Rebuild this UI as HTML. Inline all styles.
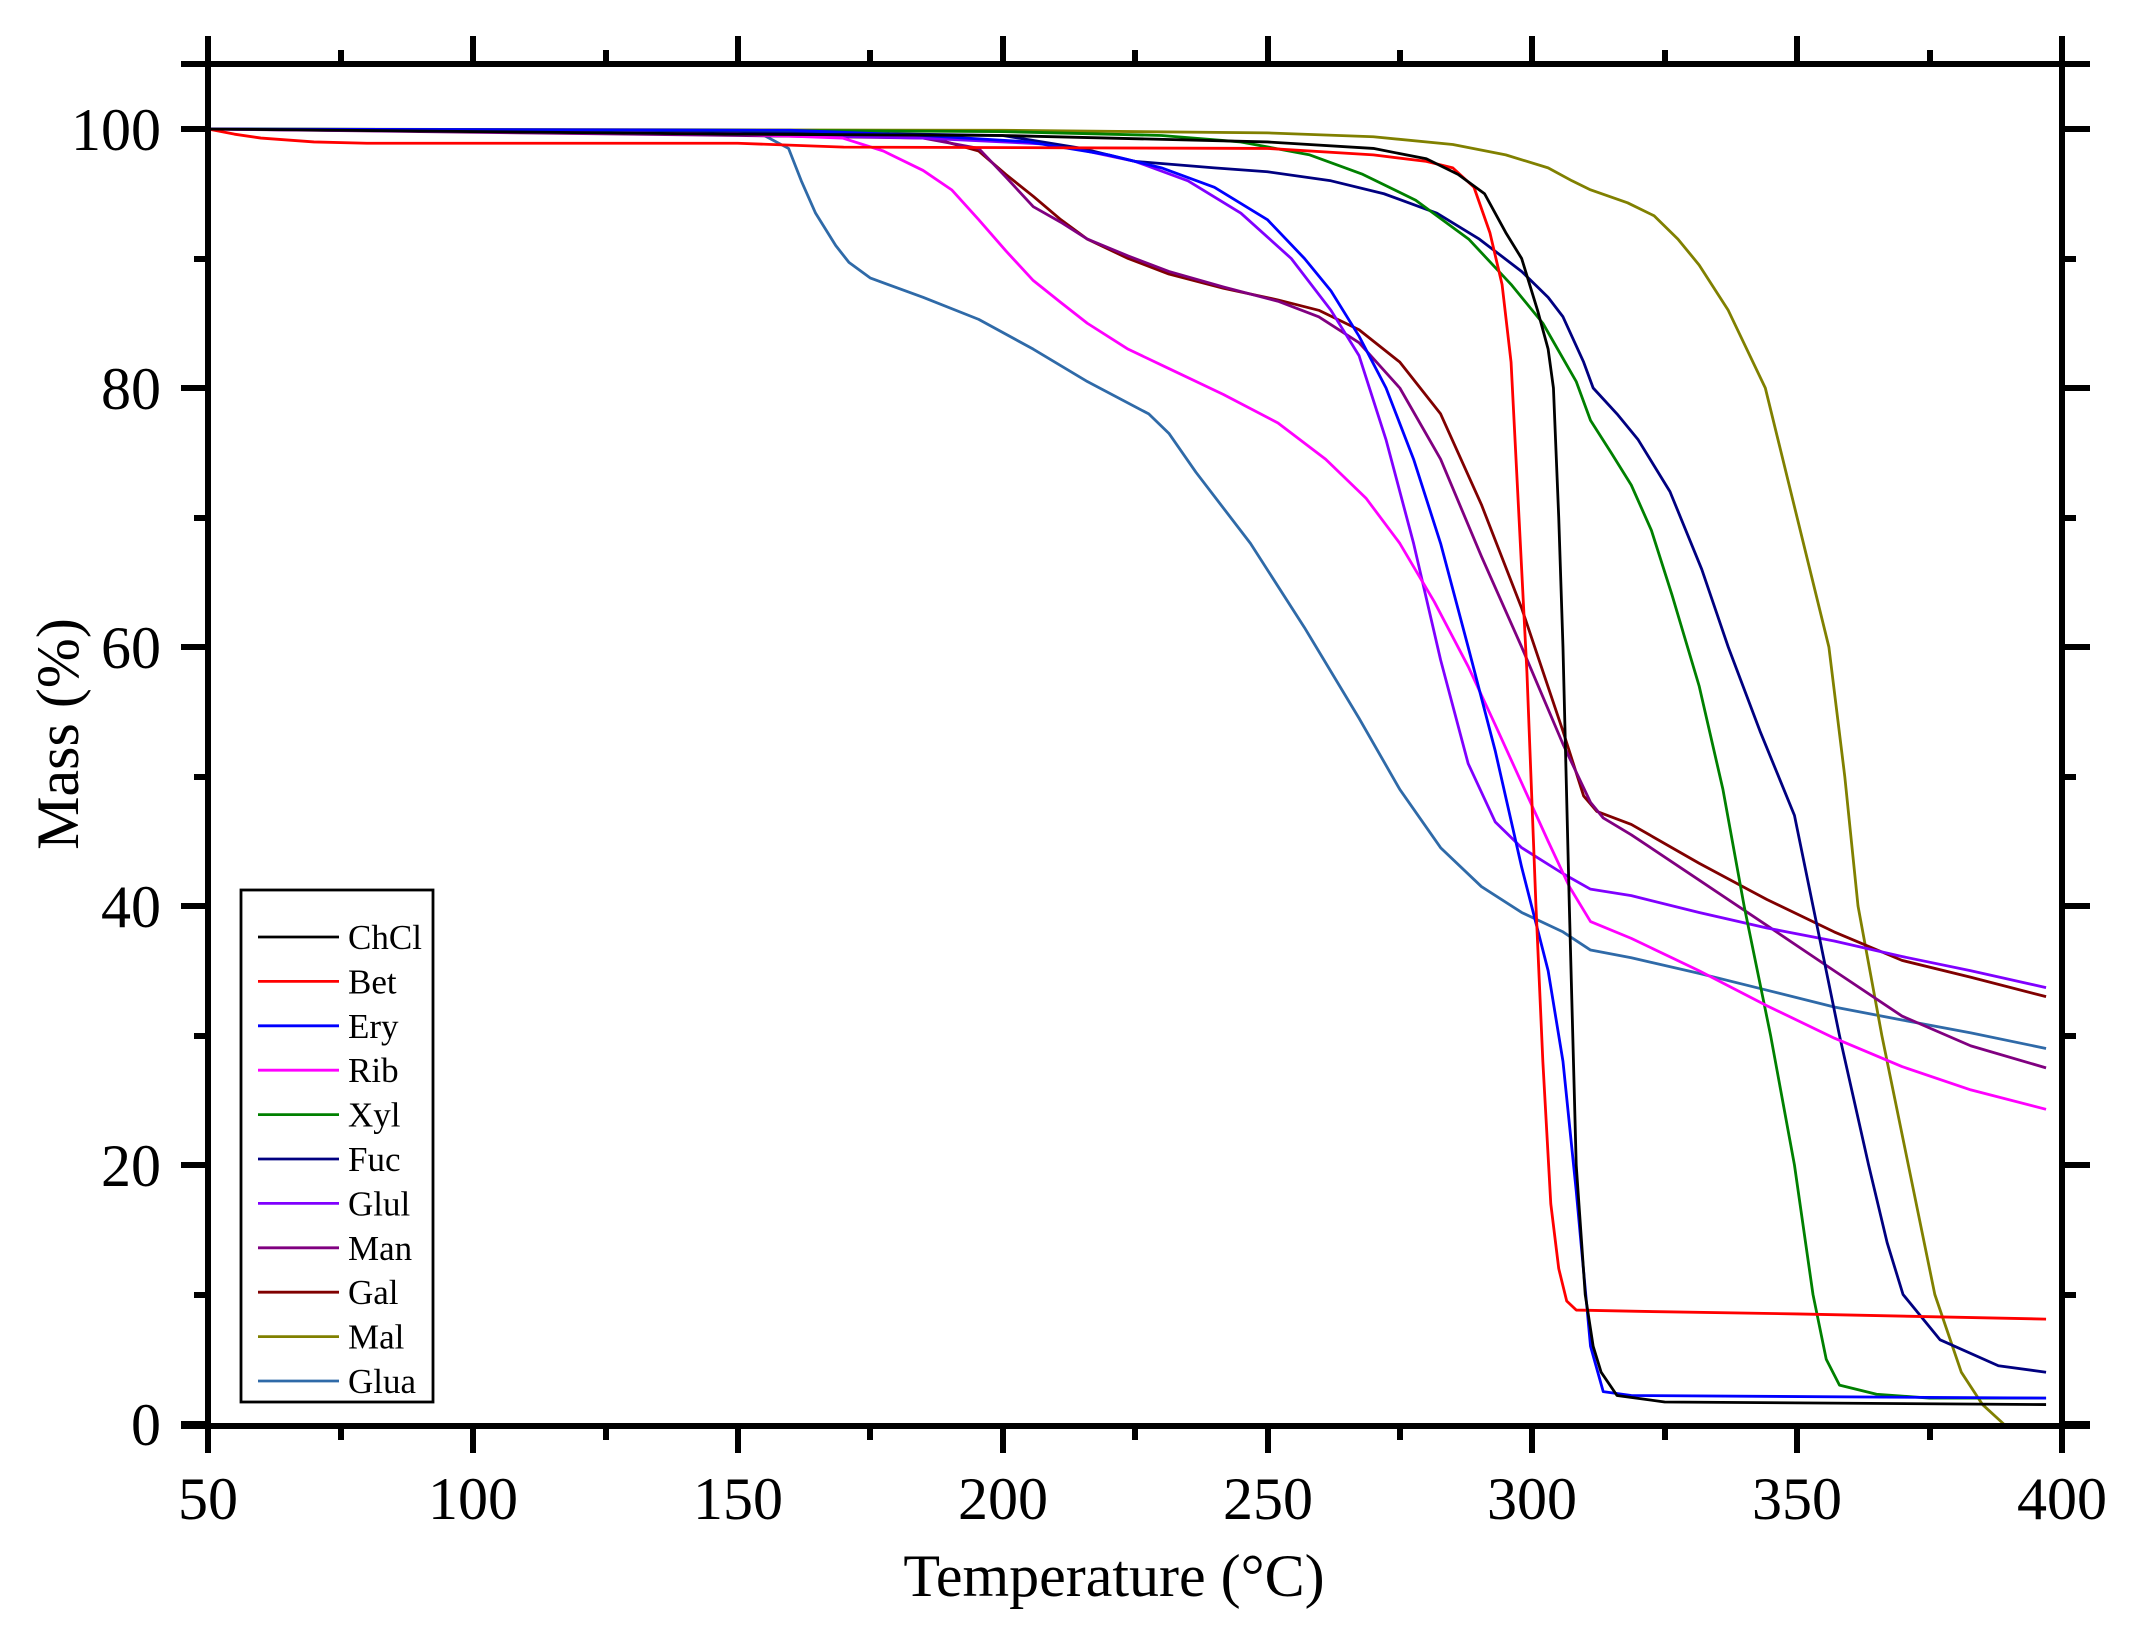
<!DOCTYPE html>
<html><head><meta charset="utf-8"><style>html,body{margin:0;padding:0;background:#fff}</style></head>
<body>
<svg width="2131" height="1633" viewBox="0 0 2131 1633" xmlns="http://www.w3.org/2000/svg" font-family="'Liberation Serif', serif">
<rect width="2131" height="1633" fill="#fff"/>
<g fill="none" stroke-width="2.8" stroke-linejoin="round">
<g transform="translate(208,1424) scale(5.297,-12.95) translate(-50,0)">
<polyline vector-effect="non-scaling-stroke" stroke="#2f6aa8" points="50,100 150,99.8 155,99.5 159.6,98.5 162,96 164.7,93.5 168.5,91 171,89.7 175,88.5 185,87 195.5,85.3 205.8,83 216,80.5 227.6,78 231.4,76.5 236.5,73.5 246.8,68 257,61.5 267.3,54.5 275,49 282.7,44.5 290.4,41.5 298,39.5 305.8,38 311,36.6 318.7,36 331.5,34.8 344.3,33.5 357,32.2 369.8,31.2 382.8,30.2 397,29"/>
<polyline vector-effect="non-scaling-stroke" stroke="#808000" points="50,100 200,99.9 250,99.7 270,99.4 285,98.8 295,98 303,97 307.5,96 311,95.3 318,94.3 323,93.3 327.5,91.5 331.5,89.5 337,86 344,80 350,70 356,60 359,50 361.5,40 366,30 371,20 376,10 381,4 385,1.5 389,0"/>
<polyline vector-effect="non-scaling-stroke" stroke="#800000" points="50,100 150,99.7 185,99.5 195.5,98.3 200.6,96.5 205.8,94.8 211,93 216,91.5 223.7,90 231.4,88.8 241.7,87.7 252,86.8 259.7,86 267.3,84.5 275,82 282.7,78 290.4,71 298,63 305.8,53.5 309.7,48.5 312.2,47.3 318.7,46.3 331.5,43.3 344.3,40.5 357,38 369.8,35.8 382.8,34.5 397,33"/>
<polyline vector-effect="non-scaling-stroke" stroke="#800080" points="50,100 150,99.5 185,99.3 195.5,98.5 200.6,96.3 205.8,94 211,92.8 216,91.5 223.7,90.2 231.4,89 241.7,87.8 252,86.7 259.7,85.5 267.3,83.5 275,80 282.7,74.5 290.4,67 298,60 305.8,52.5 311,48 313.4,46.8 318.7,45.5 331.5,42 344.3,38.5 357,35 369.8,31.5 382.8,29.2 397,27.5"/>
<polyline vector-effect="non-scaling-stroke" stroke="#8000ff" points="50,100 150,99.6 185,99.3 210,98.8 225,97.5 235,96 245,93.5 254.5,90 262,86 267.3,82.5 272.4,76 277.6,68 282.7,59 287.9,51 293,46.5 298,44.5 305.8,42.5 311,41.3 318.7,40.8 331.5,39.5 344.3,38.3 357,37.3 369.8,36.1 382.8,35 397,33.7"/>
<polyline vector-effect="non-scaling-stroke" stroke="#000080" points="50,100 150,99.8 200,99.5 215,98.5 225,97.5 240,97 250,96.7 262,96 272,95 282,93.5 290,91.5 298,89 303,87 305.8,85.5 309.7,82 311.5,80 316,78 320,76 326,72 332,66 337,60 343,53.5 349.5,47 353,40 358,30 363.5,20 367,14 370,10 377,6.5 388,4.5 397,4"/>
<polyline vector-effect="non-scaling-stroke" stroke="#008000" points="50,100 150,99.9 200,99.8 230,99.5 245,99 258,98 268,96.5 278,94.5 288,91.5 296,88 302,85 308.3,80.5 311,77.5 314.9,75 318.7,72.5 322.5,69 326.4,64 331.5,57 336,49 340,40 345,30 349.5,20 353,10 355.5,5 358,3 365,2.3 375,2 397,2"/>
<polyline vector-effect="non-scaling-stroke" stroke="#ff00ff" points="50,100 150,99.6 169.8,99.3 177.5,98.3 185,96.8 190.4,95.3 195.5,93 200.6,90.6 205.8,88.3 211,86.6 216,85 223.7,83 231.4,81.5 241.7,79.5 252,77.3 261,74.5 268.6,71.5 275,68 281.5,63.5 287.9,58.5 293,54 298,49.5 303,45 307,41.5 311,38.8 318.7,37.5 331.5,35 344.3,32.3 357,29.8 369.8,27.6 382.8,25.8 397,24.3"/>
<polyline vector-effect="non-scaling-stroke" stroke="#0000ff" points="50,100 160,99.9 185,99.5 205,99 220,98 230,97 240,95.5 250,93 257,90 262,87.5 267.3,84 272.4,80 277.6,74.5 282.7,68 287.9,60 293,52 298,43 303,35 305.8,28 308.3,18 311,6 313.4,2.5 318.7,2.2 397,2"/>
<polyline vector-effect="non-scaling-stroke" stroke="#ff0000" points="50,100 55,99.6 60,99.3 70,99 80,98.9 150,98.9 170,98.6 250,98.5 270,98 280,97.5 285,97 289,95.5 292,92 294.3,88 296,82 297.5,70 299,58 300.7,40 302,28 303.5,17 305,12 306.5,9.5 308.3,8.8 320,8.7 350,8.5 397,8.1"/>
<polyline vector-effect="non-scaling-stroke" stroke="#000000" points="50,100 150,99.6 200,99.5 250,99 270,98.5 280,97.7 286,96.5 291,95 295,92 298,90 301,86 303,83 304,80 305,70 305.8,60 307,40 308.3,20 310,10 311.5,6 313,4 316,2.2 325,1.7 397,1.5"/>
</g>
</g>
<g stroke="#000" stroke-width="6" fill="none">
<line x1="181" y1="1426" x2="2090" y2="1426"/>
<line x1="181" y1="64" x2="2090" y2="64"/>
<line x1="208" y1="36" x2="208" y2="1453"/>
<line x1="2062" y1="36" x2="2062" y2="1453"/>
<path d="M208 1426V1453M473 1426V1453M738 1426V1453M1003 1426V1453M1268 1426V1453M1532 1426V1453M1797 1426V1453M2062 1426V1453"/>
<path d="M341 1426V1440M606 1426V1440M870 1426V1440M1135 1426V1440M1400 1426V1440M1665 1426V1440M1930 1426V1440"/>
<path d="M208 64V36M473 64V36M738 64V36M1003 64V36M1268 64V36M1532 64V36M1797 64V36M2062 64V36"/>
<path d="M341 64V50M606 64V50M870 64V50M1135 64V50M1400 64V50M1665 64V50M1930 64V50"/>
<path d="M208 1424H181M208 1165H181M208 906H181M208 647H181M208 388H181M208 129H181"/>
<path d="M208 1295H194M208 1036H194M208 777H194M208 518H194M208 259H194"/>
<path d="M2062 1424H2090M2062 1165H2090M2062 906H2090M2062 647H2090M2062 388H2090M2062 129H2090"/>
<path d="M2062 1295H2076M2062 1036H2076M2062 777H2076M2062 518H2076M2062 259H2076"/>
</g>
<g font-size="60" fill="#000" text-anchor="middle">
<text x="208" y="1519">50</text><text x="473" y="1519">100</text><text x="738" y="1519">150</text><text x="1003" y="1519">200</text><text x="1268" y="1519">250</text><text x="1532" y="1519">300</text><text x="1797" y="1519">350</text><text x="2062" y="1519">400</text>
</g>
<g font-size="60" fill="#000" text-anchor="end">
<text x="161" y="1445">0</text><text x="161" y="1186">20</text><text x="161" y="927">40</text><text x="161" y="668">60</text><text x="161" y="409">80</text><text x="161" y="150">100</text>
</g>
<text x="1114" y="1596" font-size="60" text-anchor="middle">Temperature (°C)</text>
<text transform="translate(78,734) rotate(-90)" font-size="60" text-anchor="middle">Mass (%)</text>
<rect x="241" y="890" width="192" height="512" fill="#fff" stroke="#000" stroke-width="2.8"/>
<g stroke-width="2.8" font-size="35" fill="#000">
<line x1="258" y1="937" x2="339" y2="937" stroke="#000000"/><text x="348" y="949">ChCl</text>
<line x1="258" y1="981.4" x2="339" y2="981.4" stroke="#ff0000"/><text x="348" y="993.4">Bet</text>
<line x1="258" y1="1025.8" x2="339" y2="1025.8" stroke="#0000ff"/><text x="348" y="1037.8">Ery</text>
<line x1="258" y1="1070.2" x2="339" y2="1070.2" stroke="#ff00ff"/><text x="348" y="1082.2">Rib</text>
<line x1="258" y1="1114.6" x2="339" y2="1114.6" stroke="#008000"/><text x="348" y="1126.6">Xyl</text>
<line x1="258" y1="1159" x2="339" y2="1159" stroke="#000080"/><text x="348" y="1171">Fuc</text>
<line x1="258" y1="1203.4" x2="339" y2="1203.4" stroke="#8000ff"/><text x="348" y="1215.4">Glul</text>
<line x1="258" y1="1247.8" x2="339" y2="1247.8" stroke="#800080"/><text x="348" y="1259.8">Man</text>
<line x1="258" y1="1292.2" x2="339" y2="1292.2" stroke="#800000"/><text x="348" y="1304.2">Gal</text>
<line x1="258" y1="1336.6" x2="339" y2="1336.6" stroke="#808000"/><text x="348" y="1348.6">Mal</text>
<line x1="258" y1="1381" x2="339" y2="1381" stroke="#2f6aa8"/><text x="348" y="1393">Glua</text>
</g>
</svg>
</body></html>
